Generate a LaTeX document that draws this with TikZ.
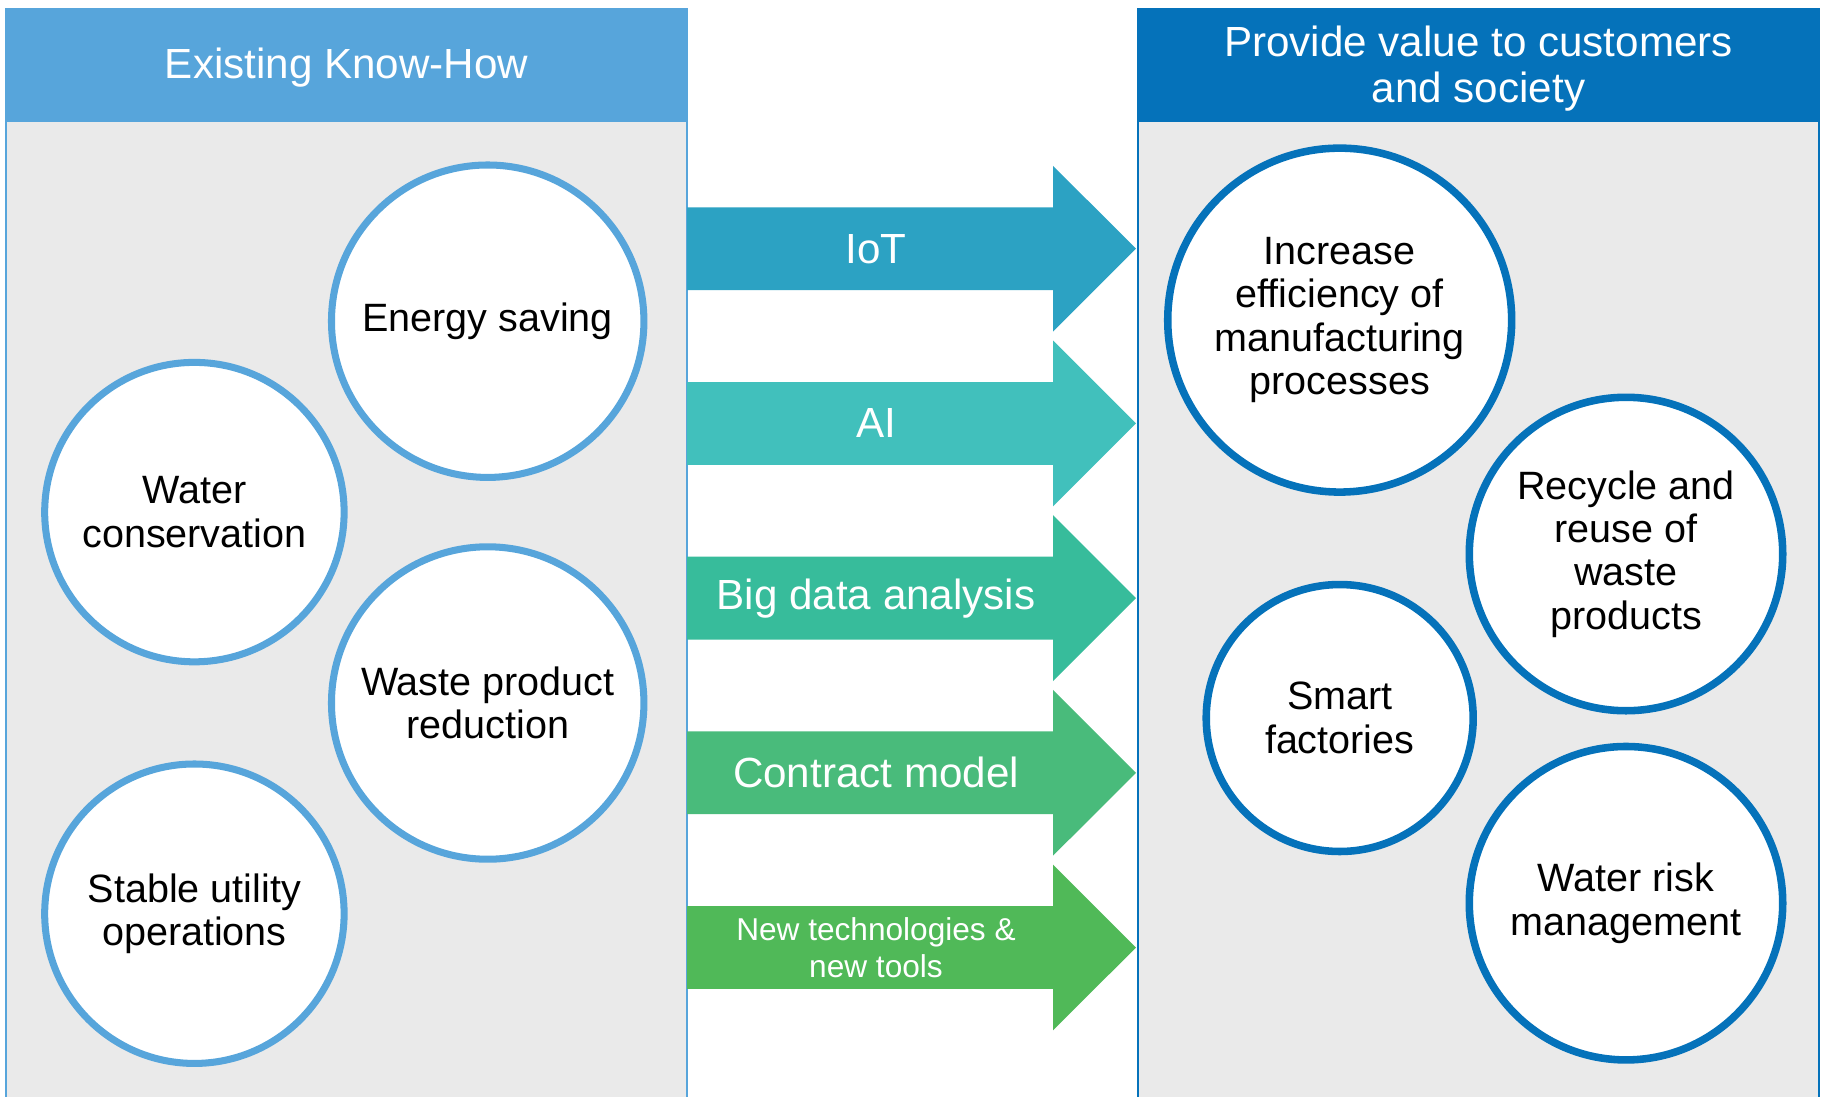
\documentclass[tikz,border=0pt]{standalone}
\usepackage{fontspec}
\setmainfont{Liberation Sans}
\usetikzlibrary{calc}

\definecolor{knowblue}{HTML}{57A5DB}
\definecolor{valueblue}{HTML}{0572BA}
\definecolor{panelgrey}{HTML}{EAEAEA}
\definecolor{iotcol}{HTML}{2CA2C3}
\definecolor{aicol}{HTML}{41C0BC}
\definecolor{bigcol}{HTML}{37BC9B}
\definecolor{contcol}{HTML}{49BB7B}
\definecolor{newcol}{HTML}{50B958}

\begin{document}
\begin{tikzpicture}[x=0.02cm, y=-0.02cm,
	know/.style={circle, draw=knowblue, line width=4pt, fill=white, align=center, inner sep=0pt, font=\fontsize{22.5}{24.7}\selectfont},
	value/.style={circle, draw=valueblue, line width=4.3pt, fill=white, align=center, inner sep=0pt, font=\fontsize{22.5}{24.7}\selectfont},
	head/.style={text=white, align=center, font=\fontsize{24}{26.2}\selectfont},
	tag/.style={text=white, align=center}]
	\useasboundingbox (0,0) rectangle (1825,1096);
	\fill[white] (0,0) rectangle (1825,1096);

	\draw[knowblue, line width=0.8pt, fill=panelgrey] (6,9) rectangle (687,1110);
	\fill[knowblue] (6,9) rectangle (687,122);
	\draw[valueblue, line width=0.8pt, fill=panelgrey] (1138,9) rectangle (1819,1110);
	\fill[valueblue] (1138,9) rectangle (1819,122);
	\node[head] (knowhow) at (346.5,68) {Existing Know-How};
	\node[head] (provide) at (1478.5,69) {Provide value to customers\\and society};

	\foreach \y/\col/\fs/\bs/\txt/\nm in {248.7/iotcol/24/27/IoT/iot, 423.4/aicol/24/27/AI/ai, 598.1/bigcol/24/27/Big data analysis/bigdata, 772.8/contcol/24/27/Contract model/contract, 947.5/newcol/18/21/New technologies \&\\new tools/newtech}
	{
		\fill[\col] (687,\y-41.4) -- (1053,\y-41.4) -- (1053,\y-82.9) -- (1136,\y) -- (1053,\y+82.9) -- (1053,\y+41.4) -- (687,\y+41.4) -- cycle;
		\node[tag, font=\fontsize{\fs}{\bs}\selectfont] (\nm) at (876,\y) {\txt};
	}

	\node[know, minimum size=6.25cm] (energy) at (487.7,321.2) {Energy saving};
	\node[know, minimum size=5.99cm] (water) at (194.4,512.1) {Water\\conservation};
	\node[know, minimum size=6.25cm] (waste) at (487.7,703) {Waste product\\reduction};
	\node[know, minimum size=5.99cm] (utility) at (194.4,913.7) {Stable utility\\operations};

	\node[value, minimum size=6.88cm] (efficiency) at (1339.7,320.1) {Increase\\efficiency of\\manufacturing\\processes};
	\node[value, minimum size=6.27cm] (recycle) at (1626,554) {Recycle and\\reuse of\\waste\\products};
	\node[value, minimum size=5.34cm] (smart) at (1339.7,718) {Smart\\factories};
	\node[value, minimum size=6.27cm] (risk) at (1626,903.2) {Water risk\\management};
\end{tikzpicture}
\end{document}
